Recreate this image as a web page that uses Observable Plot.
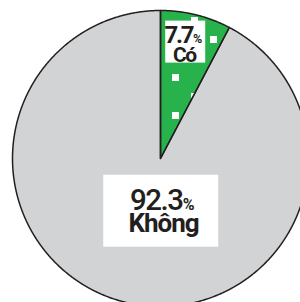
<!DOCTYPE html>
<html><head><meta charset="utf-8">
<script src="https://cdn.jsdelivr.net/npm/d3@7"></script>
<script src="https://cdn.jsdelivr.net/npm/@observablehq/plot@0.6"></script>
<style>
html,body{margin:0;padding:0;background:#fff;}
#chart{width:300px;height:302px;overflow:hidden;position:relative;}
#chart svg{display:block;}
</style></head><body><div id="chart"></div>
<script>
// ---- data ----
const categories = ["Có", "Không"];
const values = [7.7, 92.3];
const valueLabels = ["7.7", "92.3"];
const percentSign = "%";
const colors = ["#27b24b", "#d1d3d4"];

// ---- geometry from data ----
const arcs = d3.pie().sort(null).value(d => d)(values);
const pts = [];
arcs.forEach((a, i) => {
  const n = Math.max(4, Math.ceil((a.endAngle - a.startAngle) / 0.005));
  pts.push({cat: categories[i], x: 0, y: 0});
  for (let k = 0; k <= n; k++) {
    const t = a.startAngle + (a.endAngle - a.startAngle) * k / n;
    pts.push({cat: categories[i], x: Math.sin(t), y: Math.cos(t)});
  }
});

// label styles (per slice): radius of anchor along mid-angle + pixel offsets
const labelStyle = [
  {r: 0.81, dx: -3.5, dy: 0, numSize: 24, numWeight: 700, numLS: -2.2, pctSize: 12.5, nameSize: 21, nameLS: -1.5,
   numDx: 6.7, numDy: 0.7, pctDx: 7.3, nameDx: -1.5, nameDy: 20, boxW: 40, boxH: 42},
  {r: 0.36, dx: 13.5, dy: 1, numSize: 29.5, numWeight: 500, numLS: -1.5, pctSize: 16, nameSize: 26, nameLS: -1,
   numDx: 21.2, numDy: -1.7, pctDx: 21.4, nameDx: 2.3, nameDy: 20.7, boxW: 115, boxH: 72}
];
const labels = arcs.map((a, i) => {
  const m = (a.startAngle + a.endAngle) / 2, s = labelStyle[i];
  return {cat: categories[i], value: valueLabels[i], x: s.r * Math.sin(m), y: s.r * Math.cos(m), i};
});

const R = 148, CX = 160, CY = 158, W = 300, H = 302;
const font = "Roboto, 'Liberation Sans', sans-serif";
const ink = "#231f20";

const textMarks = [];
labels.forEach((l, i) => {
  const s = labelStyle[i];
  const d = [l];
  textMarks.push(Plot.text(d, {x: "x", y: "y", text: "value", textAnchor: "end", lineAnchor: "bottom",
    dx: s.dx + s.numDx, dy: s.dy + s.numDy, fontSize: s.numSize, fontWeight: s.numWeight, fill: ink, fontFamily: font}));
  textMarks.push(Plot.text(d, {x: "x", y: "y", text: () => percentSign, textAnchor: "start", lineAnchor: "bottom",
    dx: s.dx + s.pctDx, dy: s.dy + s.numDy, fontSize: s.pctSize, fontWeight: 700, fill: ink, fontFamily: font}));
  textMarks.push(Plot.text(d, {x: "x", y: "y", text: "cat", textAnchor: "middle", lineAnchor: "bottom",
    dx: s.dx + s.nameDx, dy: s.dy + s.nameDy, fontSize: s.nameSize, fontWeight: 700, fill: ink, fontFamily: font}));
});

const chart = Plot.plot({
  width: W, height: H,
  margin: 0,
  x: {domain: [-CX / R, (W - CX) / R], range: [0, W], axis: null},
  y: {domain: [-(H - CY) / R, CY / R], range: [H, 0], axis: null},
  color: {domain: categories, range: colors},
  style: {background: "white", overflow: "hidden"},
  marks: [
    Plot.line(pts, {x: "x", y: "y", z: "cat", fill: "cat", stroke: null, curve: "linear-closed"}),
    Plot.line(pts.filter(d => d.cat === categories[0]), {x: "x", y: "y", fill: "url(#dots)", stroke: null, curve: "linear-closed"}),
    Plot.line(pts, {x: "x", y: "y", z: "cat", fill: "none", stroke: ink, strokeWidth: 1.5, curve: "linear-closed"}),
    ...textMarks
  ]
});
document.getElementById("chart").appendChild(chart);

// pattern definition for the "Có" slice
const ns = "http://www.w3.org/2000/svg";
const defs = document.createElementNS(ns, "defs");
defs.innerHTML = `<pattern id="dots" patternUnits="userSpaceOnUse" x="171.5" y="73.5" width="38" height="38">
  <rect x="0" y="0" width="7" height="7" fill="#fff"/>
  <rect x="19" y="19" width="7" height="7" fill="#fff"/></pattern>`;
chart.insertBefore(defs, chart.firstChild);

// white label boxes, placed through the plot's scales
const sx = chart.scale("x"), sy = chart.scale("y");
const firstText = chart.querySelector("g[aria-label='text']");
const boxG = document.createElementNS(ns, "g");
labels.forEach((l, i) => {
  const s = labelStyle[i];
  const px = sx.apply(l.x) + s.dx, py = sy.apply(l.y) + s.dy;
  const r = document.createElementNS(ns, "rect");
  r.setAttribute("x", px - s.boxW / 2); r.setAttribute("y", py - s.boxH / 2);
  r.setAttribute("width", s.boxW); r.setAttribute("height", s.boxH);
  r.setAttribute("fill", "#fff");
  boxG.appendChild(r);
});
firstText.parentNode.insertBefore(boxG, firstText);

// letter spacing tweaks
const tgs = chart.querySelectorAll("g[aria-label='text']");
labels.forEach((l, i) => {
  const s = labelStyle[i];
  tgs[i * 3].setAttribute("letter-spacing", s.numLS);
  tgs[i * 3 + 2].setAttribute("letter-spacing", s.nameLS);
});
</script></body></html>
